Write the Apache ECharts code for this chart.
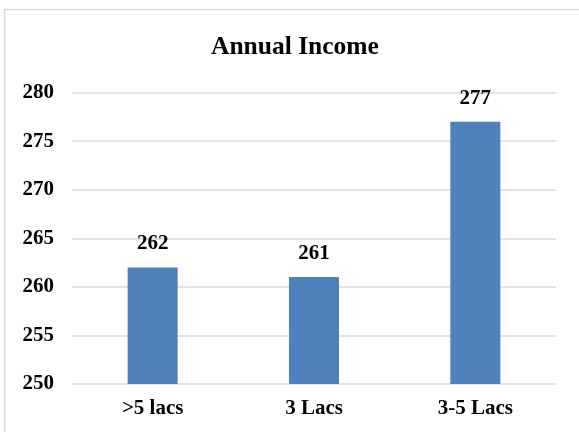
<!DOCTYPE html>
<html>
<head>
<meta charset="utf-8">
<script src="https://cdn.jsdelivr.net/npm/echarts@6/dist/echarts.min.js"></script>
<style>
  html, body { margin: 0; padding: 0; background: #fff; }
  #chart { width: 579px; height: 432px; }
</style>
</head>
<body>
<div id="chart"></div>
<script>
// data
const categories = ['>5 lacs', '3 Lacs', '3-5 Lacs']
const incomeCounts = [262, 261, 277]

const font = 'Liberation Serif'

const chart = echarts.init(document.getElementById('chart'))
chart.setOption({
  animation: false,
  graphic: [{
    type: 'rect',
    shape: { x: 4.5, y: 9.5, width: 700, height: 600 },
    style: { fill: 'none', stroke: '#d9d9d9', lineWidth: 1.5 },
    silent: true
  }],
  title: {
    text: 'Annual Income',
    left: 206,
    top: 29,
    textStyle: { fontFamily: font, fontWeight: 'bold', fontSize: 25.5, color: '#000' }
  },
  grid: { left: 72, right: 23, top: 92.5, bottom: 48 },
  xAxis: {
    type: 'category',
    data: categories,
    axisLine: { show: false },
    axisTick: { show: false },
    axisLabel: { fontFamily: font, fontWeight: 'bold', fontSize: 21, color: '#000', margin: 14 }
  },
  yAxis: {
    type: 'value',
    min: 250,
    max: 280,
    interval: 5,
    axisLine: { show: false },
    axisTick: { show: false },
    splitLine: { lineStyle: { color: '#d9d9d9', width: 1.5 } },
    axisLabel: { fontFamily: font, fontWeight: 'bold', fontSize: 21, color: '#000', margin: 18 }
  },
  series: [{
    type: 'bar',
    data: incomeCounts,
    barWidth: 50,
    itemStyle: { color: '#4f81bd' },
    label: {
      show: true,
      position: 'top',
      distance: 13,
      fontFamily: font,
      fontWeight: 'bold',
      fontSize: 21,
      color: '#000'
    }
  }]
})
</script>
</body>
</html>
